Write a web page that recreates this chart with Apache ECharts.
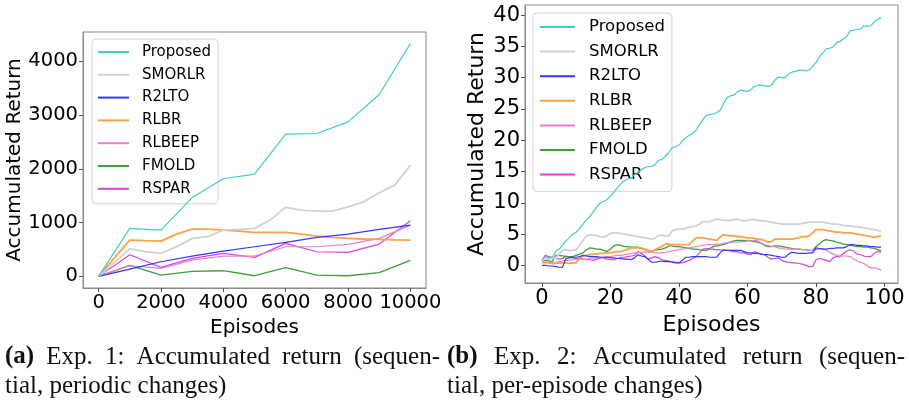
<!DOCTYPE html>
<html>
<head>
<meta charset="utf-8">
<script src="https://cdn.jsdelivr.net/npm/echarts@6/dist/echarts.min.js"></script>
<style>
  html, body { margin: 0; padding: 0; background: #fff; }
  #chart { width: 909px; height: 412px; }
</style>
</head>
<body>
<div id="chart"></div>
<script>
// ---- Exp. 1: accumulated return, periodic changes ----
const episodesA = [0, 1000, 2000, 3000, 4000, 5000, 6000, 7000, 8000, 9000, 10000];
const episodesAFine = [0, 500, 1000, 1500, 2000, 2500, 3000, 3500, 4000, 4500, 5000,
                       5500, 6000, 6500, 7000, 7500, 8000, 8500, 9000, 9500, 10000];
const proposedA = [0, 891, 860, 1465, 1815, 1901, 2643, 2656, 2872, 3380, 4327];
const smorlrA = [0, 257, 514, 460, 427, 550, 706, 740, 860, 873, 892,
                 1046, 1282, 1232, 1213, 1213, 1294, 1387, 1554, 1697, 2068];
const r2ltoA = [0, 136, 272, 378, 470, 551, 632, 724, 786, 873, 953];
const rlbrA = [0, 340, 675, 665, 656, 786, 879, 880, 861, 840, 817,
               817, 817, 785, 749, 725, 706, 695, 687, 680, 675];
const rlbeepA = [0, 198, 150, 303, 378, 378, 551, 551, 594, 706, 953];
const fmoldA = [0, 204, 25, 93, 105, 12, 161, 25, 12, 68, 297];
const rsparA = [0, 402, 167, 334, 427, 353, 613, 458, 446, 600, 1034];
const ticksAX = [0, 2000, 4000, 6000, 8000, 10000];
const ticksAY = [0, 1000, 2000, 3000, 4000];

// ---- Exp. 2: accumulated return, per-episode changes ----
const episodesB = Array.from({ length: 100 }, (_, i) => i);
const proposedB = [
  0.9, 1.4, 1.2, 1.3, 2.2, 2.6, 3.2, 3.9, 4.4, 5.0,
  5.3, 5.9, 6.6, 7.3, 7.8, 8.6, 9.3, 10.0, 10.2, 10.5,
  11.1, 11.7, 12.4, 13.0, 13.5, 13.8, 13.9, 14.5, 14.8, 15.3,
  15.6, 15.8, 15.8, 16.1, 16.8, 16.9, 17.4, 18.0, 18.8, 19.0,
  19.2, 19.9, 20.4, 20.8, 21.1, 21.6, 22.5, 23.3, 24.0, 24.1,
  24.2, 24.4, 24.8, 25.8, 26.8, 27.1, 27.2, 27.7, 28.0, 27.9,
  27.8, 28.1, 28.6, 28.8, 28.8, 28.7, 28.6, 28.8, 29.6, 30.1,
  30.0, 30.0, 30.6, 30.9, 31.0, 31.2, 31.2, 31.1, 31.2, 31.8,
  32.4, 33.3, 34.0, 34.6, 34.7, 34.9, 35.6, 35.8, 36.2, 36.6,
  37.5, 37.6, 37.7, 37.8, 38.3, 38.2, 38.3, 38.9, 39.3, 39.6
];
const smorlrB = [
  1.0, 1.0, 1.0, 1.1, 1.2, 1.8, 2.4, 2.5, 2.4, 2.4,
  2.5, 3.2, 4.0, 4.7, 4.9, 4.8, 4.8, 4.6, 4.5, 4.7,
  5.1, 5.2, 5.2, 5.1, 5.0, 4.9, 4.8, 4.7, 4.6, 4.5,
  4.4, 4.3, 4.2, 4.3, 4.8, 4.8, 4.7, 4.7, 5.5, 5.7,
  5.8, 5.8, 5.9, 6.1, 6.2, 6.3, 6.6, 7.0, 7.0, 7.0,
  7.2, 7.4, 7.3, 7.2, 7.2, 7.2, 7.3, 7.4, 7.2, 7.1,
  7.2, 7.3, 7.3, 7.2, 7.1, 7.1, 7.0, 6.9, 6.8, 6.7,
  6.6, 6.6, 6.6, 6.6, 6.6, 6.6, 6.7, 6.8, 6.9, 6.9,
  6.9, 6.9, 6.9, 6.8, 6.7, 6.6, 6.6, 6.5, 6.4, 6.3,
  6.3, 6.2, 6.2, 6.1, 6.0, 5.9, 5.8, 5.7, 5.6, 5.4
];
const r2ltoB = [
  0.0, 0.0, -0.1, -0.1, -0.2, -0.3, -0.3, 1.1, 1.2, 1.3,
  1.3, 1.4, 1.6, 1.5, 1.4, 1.4, 1.4, 1.3, 1.3, 1.3,
  1.2, 1.2, 1.1, 1.1, 1.0, 1.0, 0.9, 1.2, 1.7, 1.5,
  1.4, 1.0, 0.5, 0.5, 0.6, 0.7, 0.6, 0.6, 0.5, 0.4,
  0.4, 0.8, 1.3, 1.3, 1.4, 1.4, 1.4, 1.4, 1.4, 1.3,
  1.3, 1.3, 2.0, 2.5, 2.4, 2.4, 2.4, 2.4, 2.4, 2.2,
  2.0, 2.0, 1.9, 1.9, 1.8, 1.7, 1.7, 1.6, 1.5, 1.4,
  1.3, 1.3, 1.8, 2.1, 2.0, 1.9, 1.9, 1.9, 2.0, 2.0,
  2.8, 2.7, 2.6, 2.6, 2.7, 2.7, 2.8, 2.8, 2.8, 3.0,
  3.3, 3.3, 3.2, 3.2, 3.1, 3.1, 3.0, 3.0, 2.9, 2.9
];
const rlbrB = [
  0.6, 0.5, 0.4, 0.3, 0.3, 0.4, 0.4, 0.4, 0.3, 0.4,
  0.4, 1.2, 1.5, 1.6, 1.7, 1.8, 1.8, 1.9, 1.9, 2.0,
  2.0, 2.1, 2.2, 2.2, 2.4, 2.6, 2.8, 2.8, 2.8, 2.8,
  2.6, 2.4, 2.2, 2.5, 2.8, 3.0, 3.4, 3.4, 3.3, 3.3,
  3.3, 3.3, 3.3, 3.3, 3.9, 4.4, 4.4, 4.4, 4.3, 4.2,
  4.1, 4.0, 4.5, 4.9, 4.8, 4.7, 4.7, 4.6, 4.6, 4.5,
  4.4, 4.4, 4.3, 4.2, 4.1, 4.0, 3.7, 3.8, 4.2, 4.2,
  4.2, 4.2, 4.2, 4.2, 4.3, 4.4, 4.6, 4.6, 4.7, 5.2,
  5.7, 5.7, 5.7, 5.6, 5.5, 5.4, 5.3, 5.3, 5.2, 5.2,
  5.2, 5.1, 5.0, 4.9, 4.8, 4.7, 4.6, 4.5, 4.6, 4.7
];
const rlbeepB = [
  0.4, 0.4, 0.5, 0.5, 0.5, 0.6, 0.7, 0.8, 0.8, 0.9,
  0.9, 0.9, 1.0, 1.0, 1.1, 1.2, 1.2, 1.3, 1.3, 1.4,
  1.4, 1.5, 1.6, 1.6, 1.7, 1.8, 1.9, 2.0, 2.0, 2.1,
  2.1, 2.1, 2.1, 2.0, 2.0, 2.0, 2.1, 2.2, 2.3, 2.4,
  2.5, 2.6, 2.7, 2.8, 2.9, 3.0, 3.1, 3.2, 3.3, 3.3,
  3.3, 3.4, 3.4, 3.5, 3.6, 3.7, 3.7, 3.7, 3.8, 3.8,
  3.9, 3.9, 4.0, 3.9, 3.6, 3.3, 3.2, 3.0, 3.0, 2.8,
  2.7, 2.6, 2.6, 2.6, 2.6, 2.6, 2.5, 2.5, 2.4, 2.4,
  2.5, 2.6, 2.7, 2.4, 2.1, 1.8, 1.6, 1.5, 1.5, 1.5,
  1.4, 1.0, 0.7, 0.5, 0.3, -0.1, -0.4, -0.4, -0.5, -0.8
];
const fmoldB = [
  1.0, 0.8, 0.7, 0.6, 1.6, 1.6, 1.5, 1.4, 1.4, 1.4,
  1.6, 1.8, 2.0, 2.5, 2.8, 2.7, 2.6, 2.6, 2.4, 2.2,
  2.6, 3.1, 3.3, 3.2, 3.0, 3.0, 2.9, 2.9, 2.9, 2.7,
  2.5, 2.3, 2.3, 2.4, 2.5, 2.6, 2.8, 3.1, 3.1, 3.0,
  3.0, 2.9, 2.8, 2.7, 2.6, 2.6, 2.5, 2.4, 2.4, 2.7,
  3.0, 3.1, 3.2, 3.3, 3.5, 3.7, 3.9, 4.0, 4.0, 4.0,
  4.0, 3.9, 3.8, 3.7, 3.5, 3.2, 3.0, 3.0, 3.1, 3.1,
  3.0, 2.9, 2.8, 2.7, 2.6, 2.6, 2.5, 2.5, 2.4, 2.4,
  3.0, 3.4, 3.9, 4.1, 4.0, 3.9, 3.7, 3.6, 3.4, 3.3,
  3.2, 3.1, 3.0, 3.0, 2.9, 2.9, 2.8, 2.7, 2.5, 2.3
];
const rsparB = [
  0.8, 1.6, 1.4, 1.3, 1.1, 1.0, 1.1, 1.5, 1.3, 1.2,
  1.1, 1.1, 1.0, 0.9, 0.9, 0.8, 1.0, 1.2, 1.2, 1.0,
  0.9, 0.9, 1.1, 1.3, 1.3, 1.4, 1.5, 1.6, 2.2, 1.9,
  1.5, 1.0, 1.2, 1.4, 1.2, 0.9, 0.8, 0.7, 0.6, 0.5,
  0.4, 0.4, 0.6, 0.8, 1.1, 1.4, 2.0, 2.6, 2.7, 2.6,
  2.6, 2.5, 2.5, 2.4, 2.4, 2.3, 2.2, 2.2, 2.0, 2.0,
  1.8, 1.7, 2.2, 2.0, 1.8, 1.7, 1.3, 1.0, 1.1, 1.2,
  0.8, 0.6, 0.5, 0.4, 0.4, 0.3, 0.2, 0.0, -0.2, -0.2,
  0.9, 1.1, 1.0, 0.8, 0.6, 1.2, 1.4, 1.4, 1.9, 2.3,
  2.5, 2.3, 1.8, 1.7, 1.5, 1.4, 1.4, 1.9, 2.2, 2.1
];
const ticksBX = [0, 20, 40, 60, 80, 100];
const ticksBY = [0, 5, 10, 15, 20, 25, 30, 35, 40];

const methodNames = ['Proposed', 'SMORLR', 'R2LTO', 'RLBR', 'RLBEEP', 'FMOLD', 'RSPAR'];
const methodColors = ['#3fcccc', '#d2d2d2', '#3535ff', '#ffa145', '#e882c8', '#3c9f3c', '#dc42dc'];
const methodWidths = [1.2, 1.8, 1.2, 1.8, 1.2, 1.3, 1.2];

// Sub-figure captions: bold tag, first line (justified), second line
const captionA = { tag: '(a)', line1: ['Exp.', '1:', 'Accumulated', 'return', '(sequen-'], line2: 'tial, periodic changes)' };
const captionB = { tag: '(b)', line1: ['Exp.', '2:', 'Accumulated', 'return', '(sequen-'], line2: 'tial, per-episode changes)' };

const seriesA = [
  [episodesA, proposedA], [episodesAFine, smorlrA], [episodesA, r2ltoA], [episodesAFine, rlbrA],
  [episodesA, rlbeepA], [episodesA, fmoldA], [episodesA, rsparA]
];
const seriesB = [proposedB, smorlrB, r2ltoB, rlbrB, rlbeepB, fmoldB, rsparB];

const FONT = 'DejaVu Sans';
const SERIF = '"Liberation Serif"';
const CAPTION_FONT = '25px ' + SERIF;
const CAPTION_BOLD = 'bold 25px ' + SERIF;
const zip = (xs, ys) => xs.map((x, i) => [x, ys[i]]);
const plain = v => String(v);

function lineSeries(name, idx, data, axisIndex) {
  return {
    type: 'line', name, data,
    xAxisIndex: axisIndex, yAxisIndex: axisIndex,
    symbol: 'none', silent: true, animation: false,
    lineStyle: { color: methodColors[idx], width: methodWidths[idx] },
    itemStyle: { color: methodColors[idx] },
    z: 10 - idx
  };
}

function makeAxis(gridIndex, min, max, ticks, labelSize, extra) {
  return Object.assign({
    type: 'value', gridIndex, min, max,
    splitLine: { show: false },
    axisLine: { show: true, onZero: false, lineStyle: { color: '#8a8a8a', width: 1 } },
    axisTick: { show: true, length: 4, lineStyle: { color: '#555' }, customValues: ticks },
    axisLabel: { color: '#000', fontFamily: FONT, fontSize: labelSize, margin: 5, customValues: ticks, formatter: plain },
    nameLocation: 'middle'
  }, extra);
}

function makeLegend(box) {
  return Object.assign({
    orient: 'vertical',
    data: methodNames,
    backgroundColor: 'rgba(255,255,255,0.85)',
    borderColor: '#d6d6d6', borderWidth: 1, borderRadius: 4,
    selectedMode: false,
    // line-only legend keys: the marker glyph is made transparent
    itemStyle: { color: 'rgba(0,0,0,0)', borderColor: 'rgba(0,0,0,0)', borderWidth: 0 }
  }, box);
}

// Lay out a caption: the first line is spread to fill [x0, x1] like justified text
const measureCtx = document.createElement('canvas').getContext('2d');
function textWidth(str, font) {
  measureCtx.font = font;
  return measureCtx.measureText(str).width;
}
function captionGraphics(cap, x0, x1, y1, y2) {
  const words = [{ t: cap.tag, f: CAPTION_BOLD }].concat(cap.line1.map(t => ({ t, f: CAPTION_FONT })));
  const widths = words.map(w => textWidth(w.t, w.f));
  const total = widths.reduce((a, b) => a + b, 0);
  const gap = (x1 - x0 - total) / (words.length - 1);
  const out = [];
  let x = x0;
  words.forEach((w, i) => {
    out.push({
      type: 'text', x, y: y1, silent: true,
      style: { text: w.t, font: w.f, fill: '#111', verticalAlign: 'middle', align: 'left' }
    });
    x += widths[i] + gap;
  });
  out.push({
    type: 'text', x: x0, y: y2, silent: true,
    style: { text: cap.line2, font: CAPTION_FONT, fill: '#111', verticalAlign: 'middle', align: 'left' }
  });
  return out;
}

const chart = echarts.init(document.getElementById('chart'), null, { renderer: 'canvas' });

chart.setOption({
  backgroundColor: '#fff',
  animation: false,
  grid: [
    { left: 83, top: 32, width: 343, height: 256, show: true, borderColor: '#8a8a8a', borderWidth: 1 },
    { left: 525, top: 5, width: 373, height: 278, show: true, borderColor: '#8a8a8a', borderWidth: 1 }
  ],
  xAxis: [
    makeAxis(0, -500, 10500, ticksAX, 19.5, {
      name: 'Episodes', nameGap: 24,
      nameTextStyle: { color: '#000', fontFamily: FONT, fontSize: 20 }
    }),
    makeAxis(1, -4.95, 103.95, ticksBX, 21, {
      name: 'Episodes', nameGap: 26,
      nameTextStyle: { color: '#000', fontFamily: FONT, fontSize: 22 }
    })
  ],
  yAxis: [
    makeAxis(0, -216, 4543, ticksAY, 19.5, {
      name: 'Accumulated Return', nameGap: 58, nameRotate: 90,
      nameTextStyle: { color: '#000', fontFamily: FONT, fontSize: 20 }
    }),
    makeAxis(1, -2.82, 41.62, ticksBY, 21, {
      name: 'Accumulated Return', nameGap: 37, nameRotate: 90,
      nameTextStyle: { color: '#000', fontFamily: FONT, fontSize: 22 }
    })
  ],
  legend: [
    makeLegend({
      left: 92, top: 39, padding: [5, 7, 7, 5],
      itemWidth: 31, itemHeight: 14, itemGap: 6.8,
      textStyle: { color: '#000', fontFamily: FONT, fontSize: 15, lineHeight: 16, padding: [0, 0, 0, 8] }
    }),
    makeLegend({
      left: 533, top: 13, padding: [5, 7, 8, 6],
      itemWidth: 35, itemHeight: 16, itemGap: 6.6,
      textStyle: { color: '#000', fontFamily: FONT, fontSize: 16.5, lineHeight: 18, padding: [0, 0, 0, 9] }
    })
  ],
  series: [
    ...methodNames.map((n, i) => lineSeries(n, i, zip(seriesA[i][0], seriesA[i][1]), 0)),
    ...methodNames.map((n, i) => lineSeries(n, i, zip(episodesB, seriesB[i]), 1))
  ],
  graphic: [
    ...captionGraphics(captionA, 5, 440, 357, 386),
    ...captionGraphics(captionB, 447, 905, 357, 386)
  ]
});
</script>
</body>
</html>
